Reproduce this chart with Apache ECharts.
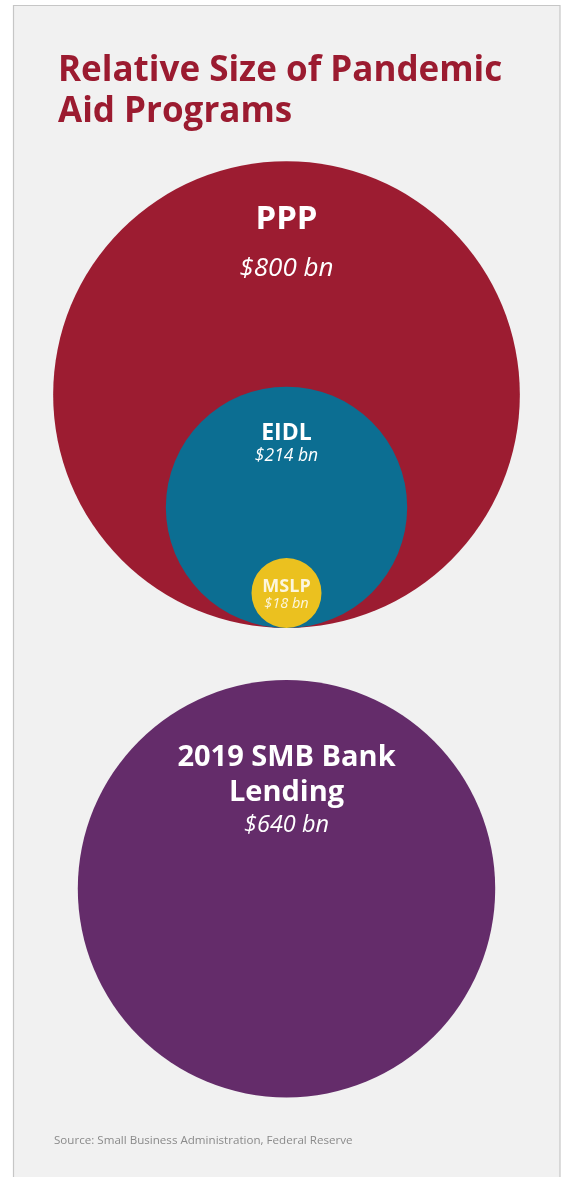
<!DOCTYPE html>
<html>
<head>
<meta charset="utf-8">
<script src="https://cdn.jsdelivr.net/npm/echarts@6/dist/echarts.min.js"></script>
<style>
  html, body { margin: 0; padding: 0; background: #ffffff; }
  #chart { width: 572px; height: 1177px; }
</style>
</head>
<body>
<div id="chart"></div>
<script>
// Program names and their sizes (billions of US dollars)
const programs = ['PPP', 'EIDL', 'MSLP', '2019 SMB Bank\nLending'];
const amounts = [800, 214, 18, 640];
// Which cluster each circle belongs to: 0 = nested pandemic programs, 1 = bank lending
const clusters = [0, 0, 0, 1];

const titleText = 'Relative Size of Pandemic\nAid Programs';
const sourceText = 'Source: Small Business Administration, Federal Reserve';

// ---- styling & layout ----
const FONT = '"Open Sans", "Noto Sans", sans-serif';
const fills = ['#9c1c31', '#0c6e92', '#ebc11f', '#642c6a'];
const RADIUS_PER_ROOT = 8.25;     // circle radius (px) per sqrt(billion)
const CENTER_X = 286.5;
const NESTED_BOTTOM = 628;        // nested circles share a bottom tangent point
const LENDING_TOP = 680;
// label offsets from each circle's top edge
const labelLayout = [
  { name: 58, value: 107, nameSize: 33, valueSize: 26, nameLine: 34 },
  { name: 47, value: 69.5, nameSize: 23, valueSize: 17.5, nameLine: 26 },
  { name: 29, value: 46, nameSize: 18, valueSize: 14.5, nameLine: 20 },
  { name: 112.5, value: 145.5, nameSize: 29, valueSize: 23.5, nameLine: 35 }
];
const labelOpacity = [1, 1, 0.85, 1];

const radii = amounts.map(v => RADIUS_PER_ROOT * Math.sqrt(v));
const seriesData = amounts.map((v, i) => {
  const r = radii[i];
  const cy = clusters[i] === 0 ? NESTED_BOTTOM - r : LENDING_TOP + r;
  return { value: [CENTER_X, cy, r, v], name: programs[i] };
});

const chart = echarts.init(document.getElementById('chart'), null, { renderer: 'canvas' });

chart.setOption({
  backgroundColor: '#ffffff',
  animation: false,
  graphic: [
    {
      type: 'rect', z: -10, silent: true,
      shape: { x: 13.5, y: 5.5, width: 546.5, height: 1190 },
      style: { fill: '#f1f1f1', stroke: '#c6c6c6', lineWidth: 1.2 }
    },
    {
      type: 'text', z: 10, left: 54, top: 1135,
      style: { text: sourceText, fill: '#8a8a8a', font: '11.6px ' + FONT }
    }
  ],
  title: {
    text: titleText,
    left: 58, top: 51, padding: 0,
    textStyle: {
      color: '#9b1b30', fontFamily: FONT, fontWeight: 'bold',
      fontSize: 35, lineHeight: 41
    }
  },
  grid: { left: 0, right: 0, top: 0, bottom: 0 },
  xAxis: { type: 'value', min: 0, max: 572, show: false },
  yAxis: { type: 'value', min: 0, max: 1177, inverse: true, show: false },
  series: [{
    type: 'custom',
    coordinateSystem: 'cartesian2d',
    data: seriesData,
    renderItem: function (params, api) {
      const i = params.dataIndex;
      const c = api.coord([api.value(0), api.value(1)]);
      const rPx = api.size([api.value(2), 0])[0];
      const top = c[1] - rPx;
      const L = labelLayout[i];
      const nameLines = programs[i].split('\n');
      const children = [{
        type: 'circle',
        shape: { cx: c[0], cy: c[1], r: rPx },
        style: { fill: fills[i] }
      }];
      nameLines.forEach((line, k) => {
        children.push({
          type: 'text',
          style: {
            text: line, x: c[0], y: top + L.name + (k - (nameLines.length - 1)) * L.nameLine,
            align: 'center', verticalAlign: 'middle',
            fill: '#ffffff', opacity: labelOpacity[i],
            font: 'bold ' + L.nameSize + 'px ' + FONT
          }
        });
      });
      children.push({
        type: 'text',
        style: {
          text: '$' + api.value(3) + ' bn', x: c[0], y: top + L.value,
          align: 'center', verticalAlign: 'middle',
          fill: '#ffffff', opacity: labelOpacity[i],
          font: 'italic ' + L.valueSize + 'px ' + FONT
        }
      });
      return { type: 'group', children: children };
    }
  }]
});
</script>
</body>
</html>
